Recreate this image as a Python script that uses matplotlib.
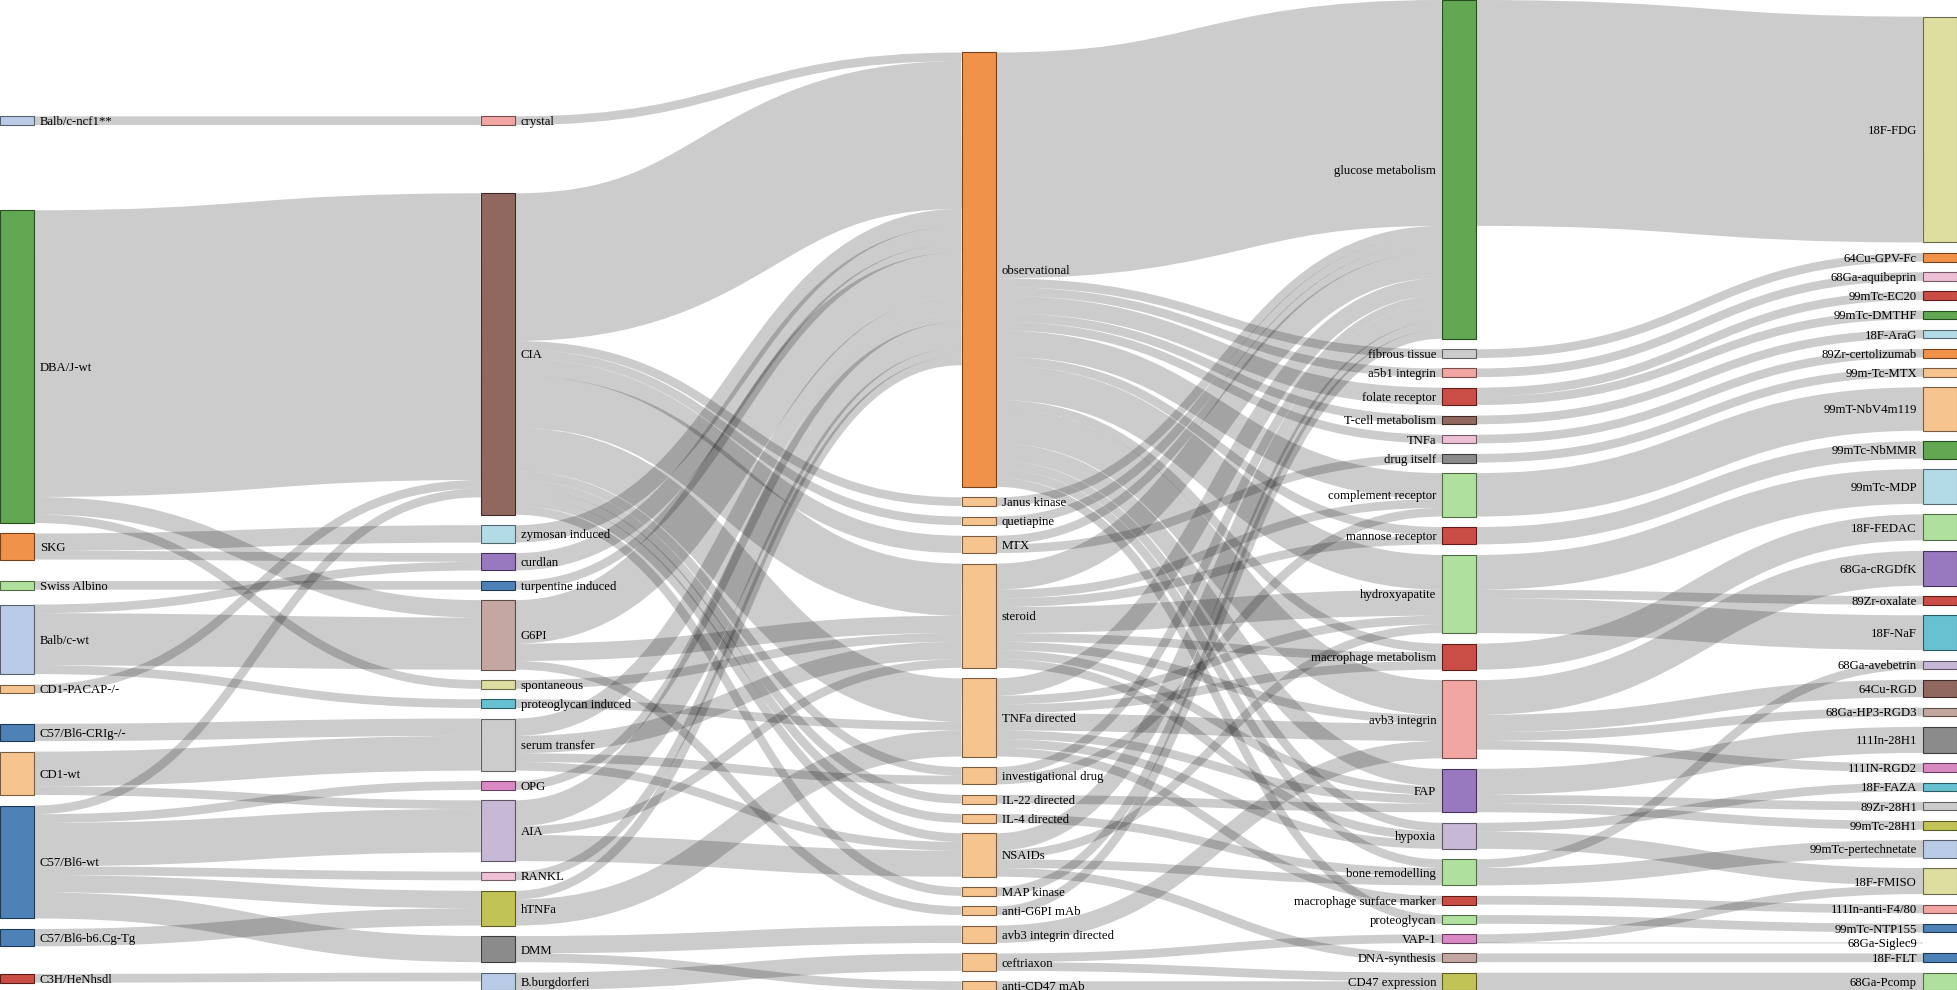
import matplotlib
matplotlib.use("Agg")
import matplotlib.pyplot as plt
from matplotlib.path import Path
from matplotlib.patches import PathPatch, Rectangle
from matplotlib.colors import to_rgb

plt.rcParams.update({"font.family": ["Liberation Serif", "DejaVu Serif"]})

# ---- data: node columns (top to bottom) ----
strains = ["Balb/c-ncf1**", "DBA/J-wt", "SKG", "Swiss Albino", "Balb/c-wt",
           "CD1-PACAP-/-", "C57/Bl6-CRIg-/-", "CD1-wt", "C57/Bl6-wt",
           "C57/Bl6-b6.Cg-Tg", "C3H/HeNhsdl"]
models = ["crystal", "CIA", "zymosan induced", "curdlan", "turpentine induced",
          "G6PI", "spontaneous", "proteoglycan induced", "serum transfer", "OPG",
          "AIA", "RANKL", "hTNFa", "DMM", "B.burgdorferi"]
interventions = ["observational", "Janus kinase", "quetiapine", "MTX", "steroid",
                 "TNFa directed", "investigational drug", "IL-22 directed",
                 "IL-4 directed", "NSAIDs", "MAP kinase", "anti-G6PI mAb",
                 "avb3 integrin directed", "ceftriaxon", "anti-CD47 mAb"]
targets = ["glucose metabolism", "fibrous tissue", "a5b1 integrin", "folate receptor",
           "T-cell metabolism", "TNFa", "drug itself", "complement receptor",
           "mannose receptor", "hydroxyapatite", "macrophage metabolism",
           "avb3 integrin", "FAP", "hypoxia", "bone remodelling",
           "macrophage surface marker", "proteoglycan", "VAP-1", "DNA-synthesis",
           "CD47 expression"]
tracers = ["18F-FDG", "64Cu-GPV-Fc", "68Ga-aquibeprin", "99mTc-EC20", "99mTc-DMTHF",
           "18F-AraG", "89Zr-certolizumab", "99m-Tc-MTX", "99mT-NbV4m119",
           "99mTc-NbMMR", "99mTc-MDP", "18F-FEDAC", "68Ga-cRGDfK", "89Zr-oxalate",
           "18F-NaF", "68Ga-avebetrin", "64Cu-RGD", "68Ga-HP3-RGD3", "111In-28H1",
           "111IN-RGD2", "18F-FAZA", "89Zr-28H1", "99mTc-28H1", "99mTc-pertechnetate",
           "18F-FMISO", "111In-anti-F4/80", "99mTc-NTP155", "68Ga-Siglec9",
           "18F-FLT", "68Ga-Pcomp"]

# ---- data: flows (source, target, count) ----
strain_model = [
    ("Balb/c-ncf1**", "crystal", 1),
    ("DBA/J-wt", "CIA", 33), ("DBA/J-wt", "G6PI", 2), ("DBA/J-wt", "spontaneous", 1),
    ("SKG", "zymosan induced", 2), ("SKG", "curdlan", 1),
    ("Swiss Albino", "turpentine induced", 1),
    ("Balb/c-wt", "curdlan", 1), ("Balb/c-wt", "G6PI", 6),
    ("Balb/c-wt", "proteoglycan induced", 1),
    ("CD1-PACAP-/-", "CIA", 1),
    ("C57/Bl6-CRIg-/-", "serum transfer", 2),
    ("CD1-wt", "serum transfer", 4), ("CD1-wt", "AIA", 1),
    ("C57/Bl6-wt", "CIA", 1), ("C57/Bl6-wt", "OPG", 1), ("C57/Bl6-wt", "AIA", 5),
    ("C57/Bl6-wt", "RANKL", 1), ("C57/Bl6-wt", "hTNFa", 2), ("C57/Bl6-wt", "DMM", 3),
    ("C57/Bl6-b6.Cg-Tg", "hTNFa", 2),
    ("C3H/HeNhsdl", "B.burgdorferi", 1),
]
model_intervention = [
    ("crystal", "observational", 1),
    ("CIA", "observational", 17), ("CIA", "Janus kinase", 1), ("CIA", "quetiapine", 1),
    ("CIA", "MTX", 2), ("CIA", "steroid", 6), ("CIA", "TNFa directed", 5),
    ("CIA", "investigational drug", 1), ("CIA", "IL-22 directed", 1),
    ("CIA", "IL-4 directed", 1), ("CIA", "NSAIDs", 1), ("CIA", "MAP kinase", 1),
    ("zymosan induced", "observational", 2),
    ("curdlan", "observational", 2),
    ("turpentine induced", "observational", 1),
    ("G6PI", "observational", 5), ("G6PI", "steroid", 2), ("G6PI", "anti-G6PI mAb", 1),
    ("spontaneous", "steroid", 1),
    ("proteoglycan induced", "TNFa directed", 1),
    ("serum transfer", "observational", 2), ("serum transfer", "steroid", 2),
    ("serum transfer", "investigational drug", 1), ("serum transfer", "NSAIDs", 1),
    ("OPG", "observational", 1),
    ("AIA", "observational", 3), ("AIA", "steroid", 1), ("AIA", "NSAIDs", 3),
    ("RANKL", "observational", 1),
    ("hTNFa", "observational", 1), ("hTNFa", "TNFa directed", 3),
    ("DMM", "avb3 integrin directed", 2), ("DMM", "anti-CD47 mAb", 1),
    ("B.burgdorferi", "ceftriaxon", 2),
]
intervention_target = [
    ("observational", "glucose metabolism", 26), ("observational", "fibrous tissue", 1),
    ("observational", "a5b1 integrin", 1), ("observational", "folate receptor", 2),
    ("observational", "T-cell metabolism", 1), ("observational", "TNFa", 1),
    ("observational", "complement receptor", 3), ("observational", "mannose receptor", 1),
    ("observational", "hydroxyapatite", 4), ("observational", "macrophage metabolism", 1),
    ("observational", "avb3 integrin", 4), ("observational", "FAP", 2),
    ("observational", "hypoxia", 1), ("observational", "bone remodelling", 1),
    ("observational", "proteoglycan", 1),
    ("Janus kinase", "glucose metabolism", 1),
    ("quetiapine", "glucose metabolism", 1),
    ("MTX", "glucose metabolism", 1), ("MTX", "drug itself", 1),
    ("steroid", "glucose metabolism", 3), ("steroid", "complement receptor", 1),
    ("steroid", "mannose receptor", 1), ("steroid", "hydroxyapatite", 3),
    ("steroid", "macrophage metabolism", 1), ("steroid", "avb3 integrin", 1),
    ("steroid", "FAP", 1), ("steroid", "hypoxia", 1),
    ("TNFa directed", "glucose metabolism", 2), ("TNFa directed", "hypoxia", 1),
    ("TNFa directed", "hydroxyapatite", 1), ("TNFa directed", "avb3 integrin", 2),
    ("TNFa directed", "FAP", 1), ("TNFa directed", "macrophage metabolism", 1),
    ("TNFa directed", "macrophage surface marker", 1),
    ("investigational drug", "glucose metabolism", 1),
    ("investigational drug", "complement receptor", 1),
    ("IL-22 directed", "FAP", 1),
    ("IL-4 directed", "bone remodelling", 1),
    ("NSAIDs", "glucose metabolism", 2), ("NSAIDs", "hydroxyapatite", 1),
    ("NSAIDs", "bone remodelling", 1), ("NSAIDs", "DNA-synthesis", 1),
    ("MAP kinase", "glucose metabolism", 1),
    ("anti-G6PI mAb", "glucose metabolism", 1),
    ("avb3 integrin directed", "avb3 integrin", 2),
    ("ceftriaxon", "VAP-1", 1), ("ceftriaxon", "CD47 expression", 1),
    ("anti-CD47 mAb", "CD47 expression", 1),
]
target_tracer = [
    ("glucose metabolism", "18F-FDG", 26),
    ("fibrous tissue", "64Cu-GPV-Fc", 1),
    ("a5b1 integrin", "68Ga-aquibeprin", 1),
    ("folate receptor", "99mTc-EC20", 1), ("folate receptor", "99mTc-DMTHF", 1),
    ("T-cell metabolism", "18F-AraG", 1),
    ("TNFa", "89Zr-certolizumab", 1),
    ("drug itself", "99m-Tc-MTX", 1),
    ("complement receptor", "99mT-NbV4m119", 5),
    ("mannose receptor", "99mTc-NbMMR", 2),
    ("hydroxyapatite", "99mTc-MDP", 4), ("hydroxyapatite", "89Zr-oxalate", 1),
    ("hydroxyapatite", "18F-NaF", 4),
    ("macrophage metabolism", "18F-FEDAC", 3),
    ("avb3 integrin", "68Ga-cRGDfK", 4), ("avb3 integrin", "64Cu-RGD", 2),
    ("avb3 integrin", "68Ga-HP3-RGD3", 1), ("avb3 integrin", "111IN-RGD2", 1),
    ("FAP", "111In-28H1", 3), ("FAP", "89Zr-28H1", 1), ("FAP", "99mTc-28H1", 1),
    ("hypoxia", "18F-FAZA", 1), ("hypoxia", "18F-FMISO", 2),
    ("bone remodelling", "68Ga-avebetrin", 1),
    ("bone remodelling", "99mTc-pertechnetate", 2),
    ("macrophage surface marker", "111In-anti-F4/80", 1),
    ("proteoglycan", "99mTc-NTP155", 1),
    ("VAP-1", "18F-FMISO", 1), ("VAP-1", "68Ga-Siglec9", 0),
    ("DNA-synthesis", "18F-FLT", 1),
    ("CD47 expression", "68Ga-Pcomp", 2),
]

# ---- style ----
colors = {
    "Balb/c-ncf1**": "#aec7e8", "DBA/J-wt": "#2ca02c", "SKG": "#ff7f0e",
    "Swiss Albino": "#98df8a", "Balb/c-wt": "#aec7e8", "CD1-PACAP-/-": "#ffbb78",
    "C57/Bl6-CRIg-/-": "#1f77b4", "CD1-wt": "#ffbb78", "C57/Bl6-wt": "#1f77b4",
    "C57/Bl6-b6.Cg-Tg": "#1f77b4", "C3H/HeNhsdl": "#d62728",
    "crystal": "#ff9896", "CIA": "#8c564b", "zymosan induced": "#9edae5",
    "curdlan": "#9467bd", "turpentine induced": "#1f77b4", "G6PI": "#c49c94",
    "spontaneous": "#dbdb8d", "proteoglycan induced": "#17becf",
    "serum transfer": "#c7c7c7", "OPG": "#e377c2", "AIA": "#c5b0d5",
    "RANKL": "#f7b6d2", "hTNFa": "#bcbd22", "DMM": "#7f7f7f",
    "B.burgdorferi": "#aec7e8",
    "observational": "#ff7f0e",
    "glucose metabolism": "#2ca02c", "fibrous tissue": "#c7c7c7",
    "a5b1 integrin": "#ff9896", "folate receptor": "#d62728",
    "T-cell metabolism": "#8c564b", "TNFa": "#f7b6d2", "drug itself": "#7f7f7f",
    "complement receptor": "#98df8a", "mannose receptor": "#d62728",
    "hydroxyapatite": "#98df8a", "macrophage metabolism": "#d62728",
    "avb3 integrin": "#ff9896", "FAP": "#9467bd", "hypoxia": "#c5b0d5",
    "bone remodelling": "#98df8a", "macrophage surface marker": "#d62728",
    "proteoglycan": "#98df8a", "VAP-1": "#e377c2", "DNA-synthesis": "#c49c94",
    "CD47 expression": "#bcbd22",
    "18F-FDG": "#dbdb8d", "64Cu-GPV-Fc": "#ff7f0e", "68Ga-aquibeprin": "#f7b6d2",
    "99mTc-EC20": "#d62728", "99mTc-DMTHF": "#2ca02c", "18F-AraG": "#9edae5",
    "89Zr-certolizumab": "#ff7f0e", "99m-Tc-MTX": "#ffbb78",
    "99mT-NbV4m119": "#ffbb78", "99mTc-NbMMR": "#2ca02c", "99mTc-MDP": "#9edae5",
    "18F-FEDAC": "#98df8a", "68Ga-cRGDfK": "#9467bd", "89Zr-oxalate": "#d62728",
    "18F-NaF": "#17becf", "68Ga-avebetrin": "#c5b0d5", "64Cu-RGD": "#8c564b",
    "68Ga-HP3-RGD3": "#c49c94", "111In-28H1": "#7f7f7f", "111IN-RGD2": "#e377c2",
    "18F-FAZA": "#17becf", "89Zr-28H1": "#c7c7c7", "99mTc-28H1": "#bcbd22",
    "99mTc-pertechnetate": "#aec7e8", "18F-FMISO": "#dbdb8d",
    "111In-anti-F4/80": "#ff9896", "99mTc-NTP155": "#1f77b4",
    "68Ga-Siglec9": "#aec7e8", "18F-FLT": "#1f77b4", "68Ga-Pcomp": "#98df8a",
}
default_color = "#ffbb78"

W, H = 1957, 990
NODE_W, PAD = 34, 10.5
FONT_PX = 12.8
LINK_PULL = 0.7   # mix of link-aligned and centre-aligned relaxation


def p3_look(c):
    # the reference screenshot carries a wide-gamut tag, which mutes the palette
    lin = [v / 12.92 if v <= 0.04045 else ((v + 0.055) / 1.055) ** 2.4 for v in to_rgb(c)]
    m = [(0.8225, 0.1774, 0.0), (0.0332, 0.9669, 0.0), (0.0171, 0.0724, 0.9108)]
    out = []
    for row in m:
        v = sum(a * b for a, b in zip(row, lin))
        out.append(12.92 * v if v <= 0.0031308 else 1.055 * v ** (1 / 2.4) - 0.055)
    return tuple(min(1, max(0, v)) for v in out)


# ---- sankey layout (relaxation with fixed node order) ----
columns = [strains, models, interventions, targets, tracers]
links = [dict(source=s, target=t, value=v)
         for s, t, v in strain_model + model_intervention + intervention_target + target_tracer]
nodes = {}
for ci, col in enumerate(columns):
    for i, name in enumerate(col):
        nodes[name] = dict(col=ci, src=[], tgt=[], y=float(i),
                           x=ci * (W - NODE_W) / (len(columns) - 1))
for l in links:
    nodes[l["source"]]["src"].append(l)
    nodes[l["target"]]["tgt"].append(l)
for n in nodes.values():
    n["value"] = max(sum(l["value"] for l in n["src"]), sum(l["value"] for l in n["tgt"]))

ky = min((H - (len(col) - 1) * PAD) / sum(nodes[m]["value"] for m in col) for col in columns)
for n in nodes.values():
    n["dy"] = n["value"] * ky
for l in links:
    l["dy"] = l["value"] * ky


def link_offsets():
    for n in nodes.values():
        n["src"].sort(key=lambda l: nodes[l["target"]]["y"])
        n["tgt"].sort(key=lambda l: nodes[l["source"]]["y"])
        sy = 0
        for l in n["src"]:
            l["sy"] = sy
            sy += l["dy"]
        ty = 0
        for l in n["tgt"]:
            l["ty"] = ty
            ty += l["dy"]


def resolve(col):
    y0 = 0
    for name in col:
        n = nodes[name]
        if y0 - n["y"] > 0:
            n["y"] = y0
        y0 = n["y"] + n["dy"] + PAD
    dy = y0 - PAD - H
    if dy > 0:
        last = nodes[col[-1]]
        last["y"] -= dy
        y0 = last["y"]
        for name in reversed(col[:-1]):
            n = nodes[name]
            dy = n["y"] + n["dy"] + PAD - y0
            if dy > 0:
                n["y"] -= dy
            y0 = n["y"]


def relax(cols, own, far, own_off, far_off, alpha):
    for col in cols:
        link_offsets()
        for name in col:
            n = nodes[name]
            w = sum(l["value"] for l in n[own])
            if w > 0:
                aligned = sum((nodes[l[far]]["y"] + l[far_off] - l[own_off]) * l["value"]
                              for l in n[own]) / w
                centred = sum((nodes[l[far]]["y"] + nodes[l[far]]["dy"] / 2) * l["value"]
                              for l in n[own]) / w - n["dy"] / 2
                y = LINK_PULL * aligned + (1 - LINK_PULL) * centred
                n["y"] += (y - n["y"]) * alpha
        resolve(col)


for col in columns:
    resolve(col)
alpha = 1.0
for _ in range(32):
    alpha *= 0.99
    relax(columns[-2::-1], "src", "target", "sy", "ty", alpha)
    relax(columns[1:], "tgt", "source", "ty", "sy", alpha)
link_offsets()

# ---- draw ----
fig = plt.figure(figsize=(W / 100, H / 100), dpi=100)
ax = fig.add_axes([0, 0, 1, 1])
ax.set_xlim(0, W)
ax.set_ylim(H, 0)
ax.axis("off")
px2pt = 72 / 100

for l in links:
    s, t = nodes[l["source"]], nodes[l["target"]]
    x0, x1 = s["x"] + NODE_W, t["x"]
    xm = (x0 + x1) / 2
    y0 = s["y"] + l["sy"] + l["dy"] / 2
    y1 = t["y"] + l["ty"] + l["dy"] / 2
    path = Path([(x0, y0), (xm, y0), (xm, y1), (x1, y1)],
                [Path.MOVETO, Path.CURVE4, Path.CURVE4, Path.CURVE4])
    ax.add_patch(PathPatch(path, fill=False, edgecolor=(0, 0, 0, 0.2),
                           lw=max(1, l["dy"]) * px2pt, capstyle="butt", zorder=1))

for name, n in nodes.items():
    c = p3_look(colors.get(name, default_color))
    if n["dy"] > 0:
        ax.add_patch(Rectangle((n["x"], n["y"]), NODE_W, n["dy"],
                               facecolor=(*c, 0.9),
                               edgecolor=tuple(v * 0.49 for v in c), lw=0.8, zorder=2))
    yb = n["y"] + n["dy"] / 2 + 0.35 * FONT_PX
    if n["x"] < W / 2:
        ax.text(n["x"] + NODE_W + 6, yb, name, ha="left", va="baseline",
                fontsize=FONT_PX * px2pt, zorder=3)
    else:
        ax.text(n["x"] - 6, yb, name, ha="right", va="baseline",
                fontsize=FONT_PX * px2pt, zorder=3)

fig.savefig("out.png", dpi=100)
